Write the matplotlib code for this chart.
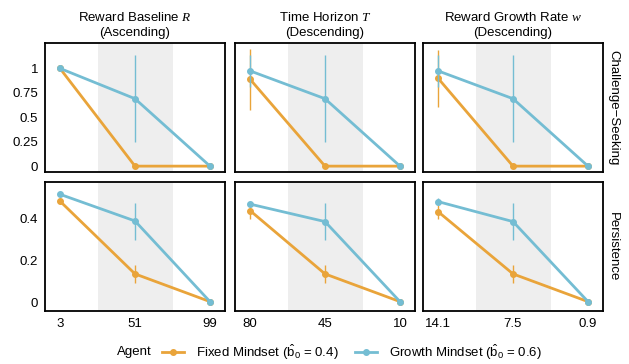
import matplotlib
matplotlib.use("Agg")
import matplotlib.pyplot as plt
from matplotlib.lines import Line2D

plt.rcParams['font.family'] = ['Liberation Sans', 'DejaVu Sans']
plt.rcParams['mathtext.fontset'] = 'custom'
plt.rcParams['mathtext.rm'] = 'Liberation Sans'
plt.rcParams['mathtext.sf'] = 'Liberation Sans'
plt.rcParams['mathtext.it'] = 'Liberation Serif:italic'

# ---------------- data ----------------
col_titles = ["Reward Baseline $R$\n(Ascending)",
              "Time Horizon $T$\n(Descending)",
              "Reward Growth Rate $w$\n(Descending)"]
row_labels = ["Challenge\u2212Seeking", "Persistence"]
x_ticklabels = [["3", "51", "99"], ["80", "45", "10"], ["14.1", "7.5", "0.9"]]
series_names = ["Fixed Mindset ($\\hat{\\mathsf{b}}_{\\mathsf{0}}$ = 0.4)",
                "Growth Mindset ($\\hat{\\mathsf{b}}_{\\mathsf{0}}$ = 0.6)"]
colors = ["#E9A43A", "#74BDD3"]

# challenge-seeking: [col] -> values at the 3 levels
cs_fixed = [[1.00, 0.00, 0.00], [0.89, 0.00, 0.00], [0.90, 0.00, 0.00]]
cs_fixed_lo = [[1.00, 0.00, 0.00], [0.57, 0.00, 0.00], [0.61, 0.00, 0.00]]
cs_fixed_hi = [[1.00, 0.00, 0.00], [1.20, 0.00, 0.00], [1.19, 0.00, 0.00]]
cs_growth = [[1.00, 0.69, 0.00], [0.975, 0.69, 0.00], [0.975, 0.69, 0.00]]
cs_growth_lo = [[1.00, 0.25, 0.00], [0.81, 0.25, 0.00], [0.81, 0.25, 0.00]]
cs_growth_hi = [[1.00, 1.14, 0.00], [1.14, 1.14, 0.00], [1.14, 1.14, 0.00]]

# persistence
pe_fixed = [[0.485, 0.136, 0.003], [0.44, 0.136, 0.003], [0.435, 0.136, 0.003]]
pe_fixed_lo = [[0.47, 0.09, 0.003], [0.40, 0.09, 0.003], [0.40, 0.09, 0.003]]
pe_fixed_hi = [[0.50, 0.18, 0.003], [0.46, 0.18, 0.003], [0.467, 0.18, 0.003]]
pe_growth = [[0.518, 0.39, 0.003], [0.471, 0.387, 0.003], [0.483, 0.387, 0.003]]
pe_growth_lo = [[0.51, 0.30, 0.003], [0.465, 0.30, 0.003], [0.47, 0.30, 0.003]]
pe_growth_hi = [[0.53, 0.478, 0.003], [0.478, 0.478, 0.003], [0.50, 0.478, 0.003]]

rows = [
    [(cs_fixed, cs_fixed_lo, cs_fixed_hi), (cs_growth, cs_growth_lo, cs_growth_hi)],
    [(pe_fixed, pe_fixed_lo, pe_fixed_hi), (pe_growth, pe_growth_lo, pe_growth_hi)],
]
row_ylims = [(-0.06, 1.26), (-0.042, 0.577)]
row_yticks = [([0, 0.25, 0.5, 0.75, 1], ["0", "0.25", "0.5", "0.75", "1"]),
              ([0, 0.2, 0.4], ["0", "0.2", "0.4"])]

# ---------------- layout ----------------
W, H = 629, 364
fig = plt.figure(figsize=(W / 100, H / 100), dpi=100)
col_left = [45, 235, 423]
row_top = [43, 182]
aw, ah = 180, 129
FS = 9.5

xpos = [1, 2, 3]
for r in range(2):
    for c in range(3):
        ax = fig.add_axes([col_left[c] / W, 1 - (row_top[r] + ah) / H, aw / W, ah / H])
        ax.axvspan(1.5, 2.5, color="#EEEEEE", lw=0, zorder=0)
        for s in range(2):
            m, lo, hi = rows[r][s]
            ax.vlines(xpos, lo[c], hi[c], color=colors[s], lw=1.0, zorder=2 + s)
            ax.plot(xpos, m[c], color=colors[s], lw=2.0, marker="o", ms=4.0,
                    solid_capstyle="butt", zorder=2 + s)
        ax.set_xlim(0.8, 3.2)
        ax.set_ylim(*row_ylims[r])
        ax.set_xticks(xpos)
        if r == 1:
            ax.set_xticklabels(x_ticklabels[c], fontsize=FS)
        else:
            ax.set_xticklabels([])
        yt, ytl = row_yticks[r]
        ax.set_yticks(yt)
        if c == 0:
            ax.set_yticklabels(ytl, fontsize=FS)
        else:
            ax.set_yticklabels([])
        ax.tick_params(length=0, pad=5, colors="black")
        for sp in ax.spines.values():
            sp.set_linewidth(1.3)
            sp.set_color("black")
        if r == 0:
            ax.set_title(col_titles[c], fontsize=FS, pad=5, linespacing=1.3)
        if c == 2:
            ax.text(1.055, 0.5, row_labels[r], transform=ax.transAxes, rotation=-90,
                    ha="center", va="center", fontsize=FS)

# legend
handles = [Line2D([0], [0], color=colors[s], lw=2.0, marker="o", ms=4.0)
           for s in range(2)]
fig.text(117 / W, 1 - 352 / H, "Agent", fontsize=FS, ha="left", va="center")
fig.legend(handles, series_names, loc="center left",
           bbox_to_anchor=(162 / W, 1 - 352 / H), ncol=2, frameon=False,
           fontsize=FS, handlelength=1.7, handletextpad=0.9, columnspacing=1.2,
           borderaxespad=0, borderpad=0)

fig.savefig("out.png", dpi=100)
